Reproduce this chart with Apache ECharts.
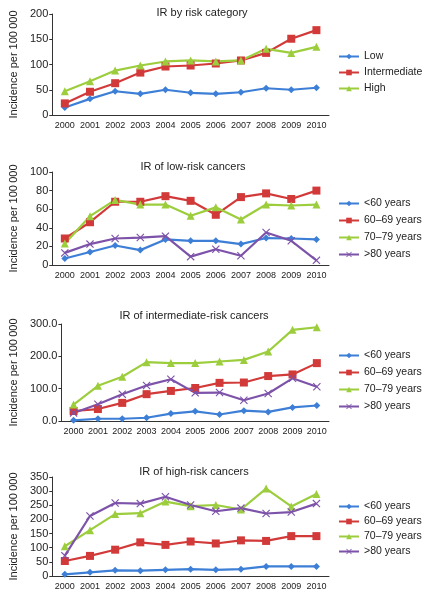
<!DOCTYPE html>
<html>
<head>
<meta charset="utf-8">
<script src="https://cdn.jsdelivr.net/npm/echarts@6/dist/echarts.min.js"></script>
<style>html,body{margin:0;padding:0;background:#fff}#c{width:424px;height:591px}</style>
</head>
<body>
<div id="c"></div>
<script>
var years = ['2000','2001','2002','2003','2004','2005','2006','2007','2008','2009','2010'];

// Panel 1: IR by risk category
var p1Names = ['Low','Intermediate','High'];
var p1Low = [15,32,47,42,50,44,42,45,53,50,54];
var p1Inter = [23,46,63,84,96,98,102,108,123,151,168];
var p1High = [47,67,88,98,106,108,106,108,131,123,135];

var ageNames = ['<60 years','60\u201369 years','70\u201379 years','>80 years'];

// Panel 2: low-risk
var p2Lt60 = [7,14,21,16,27.5,26,26,22.5,29,28.5,27.5];
var p2A60 = [28.5,46,68,68,74,69,54,73,77,71,80];
var p2A70 = [23,52.5,70,65,65,53,62,49,65,64,65];
var p2Gt80 = [13,22.5,28.5,29.5,31,9,17,10,35,26,5];

// Panel 3: intermediate-risk
var p3Lt60 = [2,7,7,10,23,30,20,32,28,42,48];
var p3A60 = [31,37,56,83,93,102,118,119,139,144,179];
var p3A70 = [51,109,137,182,179,179,184,189,215,282,290];
var p3Gt80 = [25,52,83,110,129,87,88,64,85,132,106];

// Panel 4: high-risk
var p4Lt60 = [6,13,20,19,22,24,22,24,34,34,34];
var p4A60 = [53,71,93,119,110,122,115,126,124,141,141];
var p4A70 = [105,162,219,222,263,247,251,235,309,246,290];
var p4Gt80 = [72,212,258,256,280,251,229,240,221,226,256];

var titles = ['IR by risk category','IR of low-risk cancers','IR of intermediate-risk cancers','IR of high-risk cancers'];
var yMax = [200,100,300,350];
var yInt = [50,20,100,50];

var colors = ['#3d7fd6','#d23a3a','#9ccd3c','#7d52a9'];
var symbols = ['diamond','rect','triangle','path://M0,1L1,0L5,4L9,0L10,1L6,5L10,9L9,10L5,6L1,10L0,9L4,5Z'];
var symSizes = [7,8,8,8];

var grids = [
  {left:43, top:14, width:286, height:101},
  {left:43, top:172, width:286, height:93},
  {left:43, top:324, width:286, height:97},
  {left:43, top:477, width:286, height:100}
];
var titleTop = [2,156,305,461];
var titleX = [197,188,189,189];
var legendTop = [46,193,345,496];
var legendGap = [5,6,6,4];

var panelData = [
  [p1Low,p1Inter,p1High],
  [p2Lt60,p2A60,p2A70,p2Gt80],
  [p3Lt60,p3A60,p3A70,p3Gt80],
  [p4Lt60,p4A60,p4A70,p4Gt80]
];
var panelNames = [p1Names, ageNames, ageNames, ageNames];

var font = 'Liberation Sans, Arial, Helvetica, sans-serif';
var option = {
  animation:false,
  backgroundColor:'#fff',
  title:[], grid:[], xAxis:[], yAxis:[], legend:[], series:[]
};

for (var p=0;p<4;p++){
  option.title.push({text:titles[p], left:titleX[p], top:titleTop[p], textAlign:'center',
    textStyle:{fontFamily:font, fontSize:11, fontWeight:'normal', color:'#222'}});
  option.grid.push(grids[p]);
  option.xAxis.push({type:'category', gridIndex:p, data:years, boundaryGap:true,
    axisLine:{lineStyle:{color:'#333', width:1}}, axisTick:{show:false},
    axisLabel:{fontFamily:font, fontSize:9, color:'#222', margin:6, interval:0}});
  option.yAxis.push({type:'value', gridIndex:p, min:0, max:yMax[p], interval:yInt[p],
    name:'Incidence per 100\u2009000', nameLocation:'middle', nameGap: (p===2?34:25), nameRotate:90,
    nameTextStyle:{fontFamily:font, fontSize:11, color:'#222'},
    axisLine:{show:true, lineStyle:{color:'#333', width:1}}, axisTick:{show:true, length:3, lineStyle:{color:'#333'}},
    splitLine:{show:false},
    axisLabel:{fontFamily:font, fontSize:11, color:'#222', margin:4,
      formatter: p===2 ? function(v){return v.toFixed(1);} : '{value}'}});
  var names = panelNames[p];
  var legData = [];
  for (var s=0;s<names.length;s++){
    var ci = s;
    var nm = names[s]+(p>0?'\u200b'.repeat(p):'');
    legData.push(nm);
    option.series.push({
      type:'line', name:nm, xAxisIndex:p, yAxisIndex:p,
      data:panelData[p][s], symbol:symbols[ci], symbolSize:symSizes[ci], showSymbol:true,
      lineStyle:{color:colors[ci], width:2.2}, itemStyle:{color:colors[ci]}
    });
  }
  option.legend.push({data:legData, orient:'vertical', left:333, top:legendTop[p],
    itemWidth:20, itemHeight:7, itemGap:legendGap[p],
    textStyle:{fontFamily:font, fontSize:10.5, color:'#222'}});
}

var chart = echarts.init(document.getElementById('c'), null, {renderer:'canvas'});
chart.setOption(option);
</script>
</body>
</html>
